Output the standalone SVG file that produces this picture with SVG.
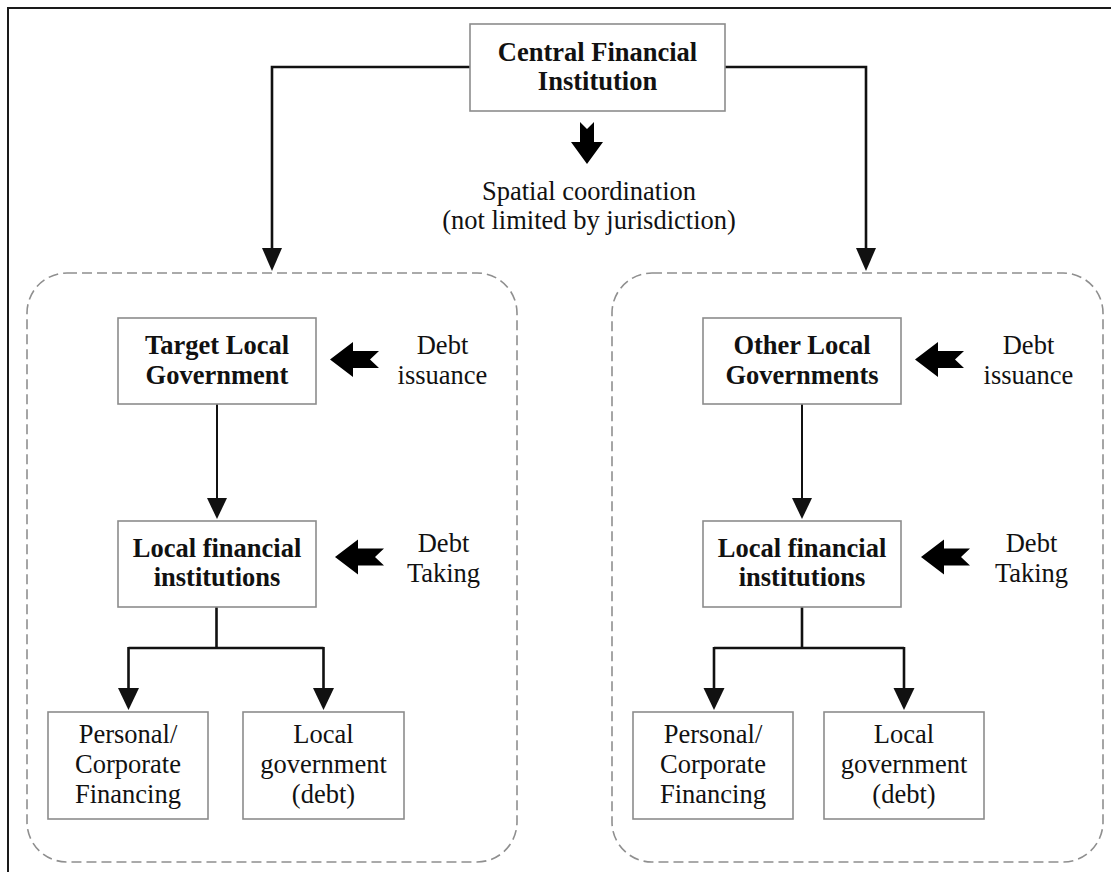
<svg xmlns="http://www.w3.org/2000/svg" xmlns:xlink="http://www.w3.org/1999/xlink" width="1111" height="872" viewBox="0 0 1111 872">
<style>
  text { font-family: "Liberation Serif", "Times New Roman", serif; font-size: 26.5px; fill: #111; text-anchor: middle; }
  .b { font-weight: bold; }
  .box { fill: #fff; stroke: #8c8c8c; stroke-width: 1.6; }
  .panel { fill: none; stroke: #8f8f8f; stroke-width: 1.6; stroke-dasharray: 10 5; }
  .conn { fill: none; stroke: #111; stroke-width: 2.6; }
  .thin { fill: none; stroke: #111; stroke-width: 2; }
  .head { fill: #111; }
  .frame { stroke: #1a1a1a; stroke-width: 2; fill: none; }
</style>
<defs>
  <path id="fatL" d="M0,0 L23,-17.5 L23,-8.5 L49,-8.5 L40,0 L49,8.5 L23,8.5 L23,17.5 Z" fill="#000"/>
</defs>
<rect width="1111" height="872" fill="#fff"/>
<g id="frame">
  <path class="frame" d="M8,872 L8,8 L1111,8"/>
</g>

<g id="panel-left"><rect class="panel" x="27" y="273" width="490" height="589" rx="40" ry="40"/></g>
<g id="panel-right"><rect class="panel" x="612" y="273" width="491" height="589" rx="40" ry="40"/></g>

<g id="connectors">
  <path class="conn" d="M470,67 L272,67 L272,252"/>
  <polygon class="head" points="262,248 282,248 272,271"/>
  <path class="conn" d="M725,67 L866,67 L866,252"/>
  <polygon class="head" points="856,248 876,248 866,271"/>

  <path class="thin" d="M217,404 L217,502"/>
  <polygon class="head" points="207,498 227,498 217,519"/>
  <path class="thin" d="M802,404 L802,502"/>
  <polygon class="head" points="792,498 812,498 802,519"/>

  <path class="conn" d="M216.5,607 L216.5,648 M128.5,648 L323.5,648 M128.5,647 L128.5,692 M323.5,647 L323.5,692"/>
  <polygon class="head" points="118,688 139,688 128.5,710"/>
  <polygon class="head" points="313,688 334,688 323.5,710"/>

  <path class="conn" d="M802,607 L802,648 M714,648 L904,648 M714,647 L714,692 M904,647 L904,692"/>
  <polygon class="head" points="703.5,688 724.5,688 714,710"/>
  <polygon class="head" points="893.5,688 914.5,688 904,710"/>
</g>

<g id="central">
  <rect class="box" x="470" y="24" width="255" height="87"/>
  <text class="b" x="597.5" y="61">Central Financial</text>
  <text class="b" x="597.5" y="90">Institution</text>
</g>

<g id="spatial-coordination">
  <polygon points="580,122 587,129 594,122 594,142 603,142 587,164 571,142 580,142" fill="#000"/>
  <text x="589" y="200">Spatial coordination</text>
  <text x="589" y="229">(not limited by jurisdiction)</text>
</g>

<g id="target-gov">
  <rect class="box" x="118" y="318" width="198" height="86"/>
  <text class="b" x="217" y="354">Target Local</text>
  <text class="b" x="217" y="384">Government</text>
</g>
<g id="left-debt-issuance">
  <use xlink:href="#fatL" x="330" y="359.5"/>
  <text x="442.5" y="354">Debt</text>
  <text x="442.5" y="384">issuance</text>
</g>
<g id="left-lfi">
  <rect class="box" x="118" y="521" width="198" height="86"/>
  <text class="b" x="217" y="557">Local financial</text>
  <text class="b" x="217" y="586">institutions</text>
</g>
<g id="left-debt-taking">
  <use xlink:href="#fatL" x="335" y="557"/>
  <text x="443.5" y="552">Debt</text>
  <text x="443.5" y="582">Taking</text>
</g>
<g id="left-personal">
  <rect class="box" x="48" y="712" width="160" height="107"/>
  <text x="128" y="743">Personal/</text>
  <text x="128" y="773">Corporate</text>
  <text x="128" y="803">Financing</text>
</g>
<g id="left-localgov">
  <rect class="box" x="243" y="712" width="161" height="107"/>
  <text x="323.5" y="743">Local</text>
  <text x="323.5" y="773">government</text>
  <text x="323.5" y="803">(debt)</text>
</g>

<g id="other-gov">
  <rect class="box" x="703" y="318" width="198" height="86"/>
  <text class="b" x="802" y="354">Other Local</text>
  <text class="b" x="802" y="384">Governments</text>
</g>
<g id="right-debt-issuance">
  <use xlink:href="#fatL" x="915" y="359.5"/>
  <text x="1028.5" y="354">Debt</text>
  <text x="1028.5" y="384">issuance</text>
</g>
<g id="right-lfi">
  <rect class="box" x="703" y="521" width="198" height="86"/>
  <text class="b" x="802" y="557">Local financial</text>
  <text class="b" x="802" y="586">institutions</text>
</g>
<g id="right-debt-taking">
  <use xlink:href="#fatL" x="921" y="557"/>
  <text x="1031.5" y="552">Debt</text>
  <text x="1031.5" y="582">Taking</text>
</g>
<g id="right-personal">
  <rect class="box" x="633" y="712" width="160" height="107"/>
  <text x="713" y="743">Personal/</text>
  <text x="713" y="773">Corporate</text>
  <text x="713" y="803">Financing</text>
</g>
<g id="right-localgov">
  <rect class="box" x="824" y="712" width="160" height="107"/>
  <text x="904" y="743">Local</text>
  <text x="904" y="773">government</text>
  <text x="904" y="803">(debt)</text>
</g>
</svg>
